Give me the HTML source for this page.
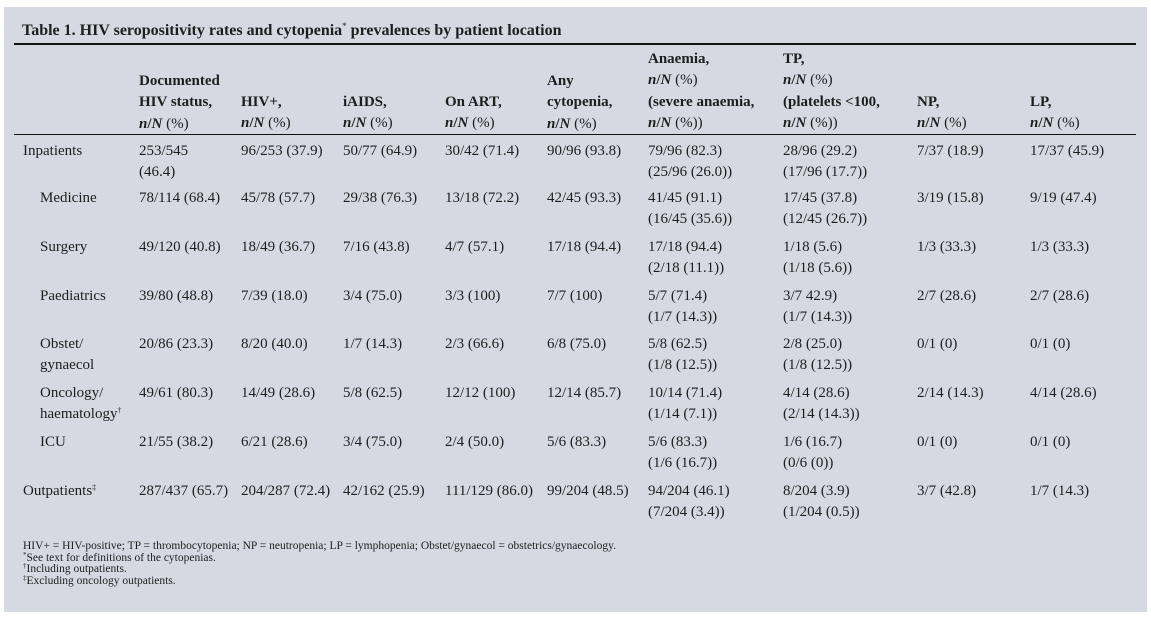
<!DOCTYPE html>
<html><head><meta charset="utf-8">
<style>
html,body{margin:0;padding:0;background:#fff;}
body{width:1151px;height:619px;position:relative;overflow:hidden;font-family:"Liberation Serif",serif;color:#1e1e1e;}
#panel{position:absolute;left:4px;top:7px;width:1143px;height:605px;background:#d6d9e2;}
.t{position:absolute;white-space:nowrap;font-size:15px;line-height:21px;}
.h{position:absolute;white-space:nowrap;font-size:15px;line-height:21.3px;font-weight:bold;}
.h i{font-weight:bold;}
.h span{font-weight:normal;}
#title{position:absolute;left:22px;top:21px;font-size:16px;font-weight:bold;white-space:nowrap;line-height:20px;}
#title sup{font-size:9px;font-weight:normal;vertical-align:6px;line-height:0;}
.rule{position:absolute;left:14px;width:1122px;background:#111;}
.fn{position:absolute;left:23px;white-space:nowrap;font-size:11.5px;line-height:11.5px;}
sup.s{font-size:8px;vertical-align:5px;line-height:0;}
sup.f{font-size:7px;vertical-align:4px;line-height:0;}
</style></head><body>
<div id="panel"></div>
<div id="title">Table 1. HIV seropositivity rates and cytopenia<sup>*</sup> prevalences by patient location</div>
<div class="rule" style="top:43px;height:2px;"></div>
<div class="rule" style="top:134px;height:1px;"></div>

<!-- headers -->
<div class="h" style="left:139px;top:71px;">Documented<br>HIV status,<br><i>n</i>/<i>N</i> <span>(%)</span></div>
<div class="h" style="left:241px;top:92px;">HIV+,<br><i>n</i>/<i>N</i> <span>(%)</span></div>
<div class="h" style="left:343px;top:92px;">iAIDS,<br><i>n</i>/<i>N</i> <span>(%)</span></div>
<div class="h" style="left:445px;top:92px;">On ART,<br><i>n</i>/<i>N</i> <span>(%)</span></div>
<div class="h" style="left:547px;top:71px;">Any<br>cytopenia,<br><i>n</i>/<i>N</i> <span>(%)</span></div>
<div class="h" style="left:648px;top:49px;">Anaemia,<br><i>n</i>/<i>N</i> <span>(%)</span><br>(severe anaemia,<br><i>n</i>/<i>N</i> <span>(%))</span></div>
<div class="h" style="left:783px;top:49px;">TP,<br><i>n</i>/<i>N</i> <span>(%)</span><br>(platelets &lt;100,<br><i>n</i>/<i>N</i> <span>(%))</span></div>
<div class="h" style="left:917px;top:92px;">NP,<br><i>n</i>/<i>N</i> <span>(%)</span></div>
<div class="h" style="left:1030px;top:92px;">LP,<br><i>n</i>/<i>N</i> <span>(%)</span></div>

<!-- Inpatients -->
<div class="t" style="left:23px;top:141px;">Inpatients</div>
<div class="t" style="left:139px;top:141px;">253/545<br>(46.4)</div>
<div class="t" style="left:241px;top:141px;">96/253 (37.9)</div>
<div class="t" style="left:343px;top:141px;">50/77 (64.9)</div>
<div class="t" style="left:445px;top:141px;">30/42 (71.4)</div>
<div class="t" style="left:547px;top:141px;">90/96 (93.8)</div>
<div class="t" style="left:648px;top:141px;">79/96 (82.3)<br>(25/96 (26.0))</div>
<div class="t" style="left:783px;top:141px;">28/96 (29.2)<br>(17/96 (17.7))</div>
<div class="t" style="left:917px;top:141px;">7/37 (18.9)</div>
<div class="t" style="left:1030px;top:141px;">17/37 (45.9)</div>

<!-- Medicine -->
<div class="t" style="left:40px;top:188px;">Medicine</div>
<div class="t" style="left:139px;top:188px;">78/114 (68.4)</div>
<div class="t" style="left:241px;top:188px;">45/78 (57.7)</div>
<div class="t" style="left:343px;top:188px;">29/38 (76.3)</div>
<div class="t" style="left:445px;top:188px;">13/18 (72.2)</div>
<div class="t" style="left:547px;top:188px;">42/45 (93.3)</div>
<div class="t" style="left:648px;top:188px;">41/45 (91.1)<br>(16/45 (35.6))</div>
<div class="t" style="left:783px;top:188px;">17/45 (37.8)<br>(12/45 (26.7))</div>
<div class="t" style="left:917px;top:188px;">3/19 (15.8)</div>
<div class="t" style="left:1030px;top:188px;">9/19 (47.4)</div>

<!-- Surgery -->
<div class="t" style="left:40px;top:237px;">Surgery</div>
<div class="t" style="left:139px;top:237px;">49/120 (40.8)</div>
<div class="t" style="left:241px;top:237px;">18/49 (36.7)</div>
<div class="t" style="left:343px;top:237px;">7/16 (43.8)</div>
<div class="t" style="left:445px;top:237px;">4/7 (57.1)</div>
<div class="t" style="left:547px;top:237px;">17/18 (94.4)</div>
<div class="t" style="left:648px;top:237px;">17/18 (94.4)<br>(2/18 (11.1))</div>
<div class="t" style="left:783px;top:237px;">1/18 (5.6)<br>(1/18 (5.6))</div>
<div class="t" style="left:917px;top:237px;">1/3 (33.3)</div>
<div class="t" style="left:1030px;top:237px;">1/3 (33.3)</div>

<!-- Paediatrics -->
<div class="t" style="left:40px;top:286px;">Paediatrics</div>
<div class="t" style="left:139px;top:286px;">39/80 (48.8)</div>
<div class="t" style="left:241px;top:286px;">7/39 (18.0)</div>
<div class="t" style="left:343px;top:286px;">3/4 (75.0)</div>
<div class="t" style="left:445px;top:286px;">3/3 (100)</div>
<div class="t" style="left:547px;top:286px;">7/7 (100)</div>
<div class="t" style="left:648px;top:286px;">5/7 (71.4)<br>(1/7 (14.3))</div>
<div class="t" style="left:783px;top:286px;">3/7 42.9)<br>(1/7 (14.3))</div>
<div class="t" style="left:917px;top:286px;">2/7 (28.6)</div>
<div class="t" style="left:1030px;top:286px;">2/7 (28.6)</div>

<!-- Obstet -->
<div class="t" style="left:40px;top:334px;">Obstet/<br>gynaecol</div>
<div class="t" style="left:139px;top:334px;">20/86 (23.3)</div>
<div class="t" style="left:241px;top:334px;">8/20 (40.0)</div>
<div class="t" style="left:343px;top:334px;">1/7 (14.3)</div>
<div class="t" style="left:445px;top:334px;">2/3 (66.6)</div>
<div class="t" style="left:547px;top:334px;">6/8 (75.0)</div>
<div class="t" style="left:648px;top:334px;">5/8 (62.5)<br>(1/8 (12.5))</div>
<div class="t" style="left:783px;top:334px;">2/8 (25.0)<br>(1/8 (12.5))</div>
<div class="t" style="left:917px;top:334px;">0/1 (0)</div>
<div class="t" style="left:1030px;top:334px;">0/1 (0)</div>

<!-- Oncology -->
<div class="t" style="left:40px;top:383px;">Oncology/<br>haematology<sup class="s">†</sup></div>
<div class="t" style="left:139px;top:383px;">49/61 (80.3)</div>
<div class="t" style="left:241px;top:383px;">14/49 (28.6)</div>
<div class="t" style="left:343px;top:383px;">5/8 (62.5)</div>
<div class="t" style="left:445px;top:383px;">12/12 (100)</div>
<div class="t" style="left:547px;top:383px;">12/14 (85.7)</div>
<div class="t" style="left:648px;top:383px;">10/14 (71.4)<br>(1/14 (7.1))</div>
<div class="t" style="left:783px;top:383px;">4/14 (28.6)<br>(2/14 (14.3))</div>
<div class="t" style="left:917px;top:383px;">2/14 (14.3)</div>
<div class="t" style="left:1030px;top:383px;">4/14 (28.6)</div>

<!-- ICU -->
<div class="t" style="left:40px;top:432px;">ICU</div>
<div class="t" style="left:139px;top:432px;">21/55 (38.2)</div>
<div class="t" style="left:241px;top:432px;">6/21 (28.6)</div>
<div class="t" style="left:343px;top:432px;">3/4 (75.0)</div>
<div class="t" style="left:445px;top:432px;">2/4 (50.0)</div>
<div class="t" style="left:547px;top:432px;">5/6 (83.3)</div>
<div class="t" style="left:648px;top:432px;">5/6 (83.3)<br>(1/6 (16.7))</div>
<div class="t" style="left:783px;top:432px;">1/6 (16.7)<br>(0/6 (0))</div>
<div class="t" style="left:917px;top:432px;">0/1 (0)</div>
<div class="t" style="left:1030px;top:432px;">0/1 (0)</div>

<!-- Outpatients -->
<div class="t" style="left:23px;top:481px;">Outpatients<sup class="s">‡</sup></div>
<div class="t" style="left:139px;top:481px;">287/437 (65.7)</div>
<div class="t" style="left:241px;top:481px;">204/287 (72.4)</div>
<div class="t" style="left:343px;top:481px;">42/162 (25.9)</div>
<div class="t" style="left:445px;top:481px;">111/129 (86.0)</div>
<div class="t" style="left:547px;top:481px;">99/204 (48.5)</div>
<div class="t" style="left:648px;top:481px;">94/204 (46.1)<br>(7/204 (3.4))</div>
<div class="t" style="left:783px;top:481px;">8/204 (3.9)<br>(1/204 (0.5))</div>
<div class="t" style="left:917px;top:481px;">3/7 (42.8)</div>
<div class="t" style="left:1030px;top:481px;">1/7 (14.3)</div>

<!-- footnotes -->
<div class="fn" style="top:541px;">HIV+ = HIV-positive; TP = thrombocytopenia; NP = neutropenia; LP = lymphopenia; Obstet/gynaecol = obstetrics/gynaecology.</div>
<div class="fn" style="top:552.5px;"><sup class="f">*</sup>See text for definitions of the cytopenias.</div>
<div class="fn" style="top:564px;"><sup class="f">†</sup>Including outpatients.</div>
<div class="fn" style="top:575.5px;"><sup class="f">‡</sup>Excluding oncology outpatients.</div>
</body></html>
